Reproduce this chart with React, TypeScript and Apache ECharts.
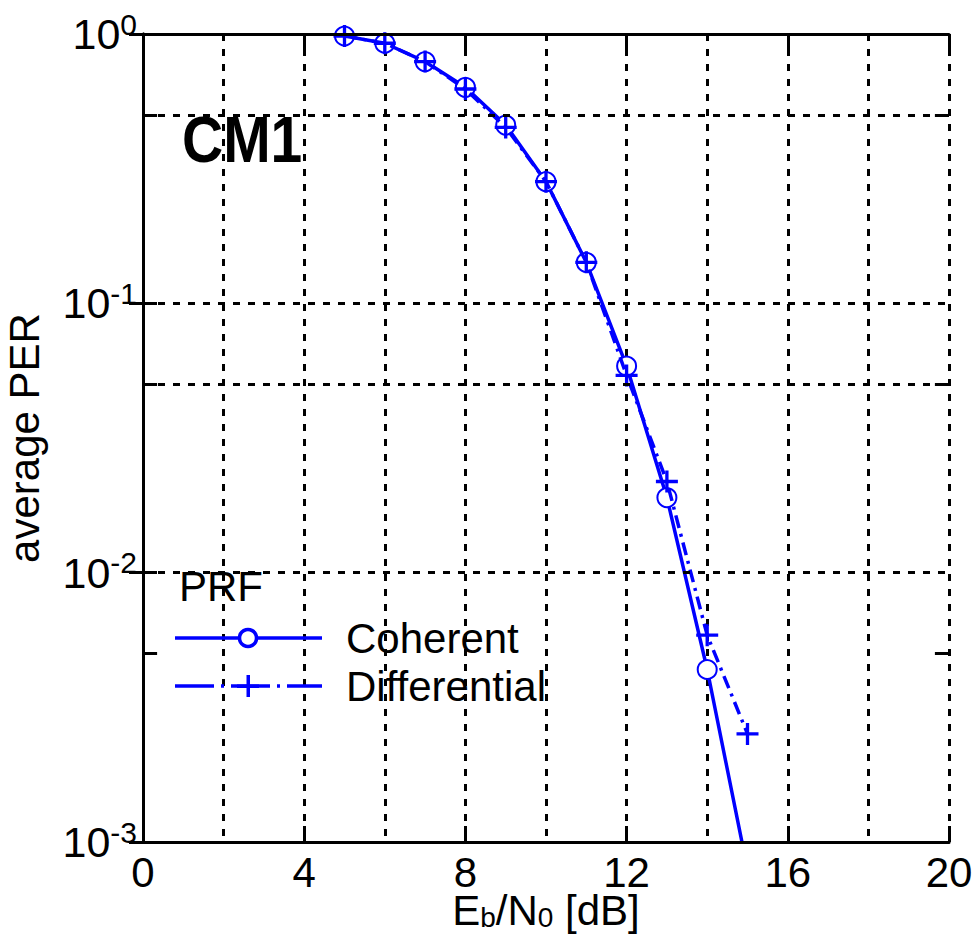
import React, { useEffect, useRef } from "react";
import * as echarts from "echarts";

const ebno = [5, 6, 7, 8, 9, 10, 11, 12, 13, 14, 15];
const coherent = [0.983, 0.924, 0.79, 0.634, 0.459, 0.283, 0.142, 0.0585, 0.019, 0.00437, 0.00079];
const differential = [0.983, 0.924, 0.79, 0.625, 0.45, 0.283, 0.142, 0.054, 0.0218, 0.00586, 0.00252];
const xTicks = [0, 4, 8, 12, 16, 20];
const halfDecades = [0.5, 0.05, 0.005];

const FONT = "'Liberation Sans', Arial, Helvetica, sans-serif";
const BLUE = "#0000ff";
const PLUS = "path://M8.5,0 H11.5 V8.5 H20 V11.5 H11.5 V20 H8.5 V11.5 H0 V8.5 H8.5 Z";

export default function App() {
  const ref = useRef<HTMLDivElement>(null);
  useEffect(() => {
    const chart = echarts.init(ref.current!, null, { renderer: "svg" });
    const gridDash = { color: "#000", type: [7, 8] as any, width: 3 };
    const tickLines: any[] = [];
    halfDecades.forEach((v) => {
      tickLines.push([
        { coord: [0, v], lineStyle: { color: "#000", type: "solid", width: 3 } },
        { coord: [0.35, v] },
      ]);
      tickLines.push([
        { coord: [19.65, v], lineStyle: { color: "#000", type: "solid", width: 3 } },
        { coord: [20, v] },
      ]);
    });
    const option: any = {
      animation: false,
      textStyle: { fontFamily: FONT },
      grid: { left: 143, top: 34, width: 806, height: 808, containLabel: false, outerBoundsMode: "none" },
      xAxis: [
        {
          type: "value",
          position: "bottom",
          min: xTicks[0],
          max: xTicks[xTicks.length - 1],
          interval: 4,
          axisLine: { show: true, lineStyle: { color: "#000", width: 3 } },
          axisTick: { show: true, inside: true, length: 16, lineStyle: { color: "#000", width: 3 } },
          axisLabel: { show: true, color: "#000", fontSize: 42, lineHeight: 34, fontFamily: FONT, margin: 13 },
          splitLine: { show: false },
          name: "E{sub|b}/N{sub|0} [dB]",
          nameLocation: "middle",
          nameGap: 47,
          nameMoveOverlap: false,
          nameTextStyle: {
            color: "#000",
            fontFamily: FONT,
            fontSize: 42,
            verticalAlign: "top",
            rich: {
              sub: { fontSize: 28, lineHeight: 14, verticalAlign: "bottom", fontFamily: FONT, color: "#000" },
            },
            lineHeight: 42,
          },
          z: 5,
        },
        {
          type: "value",
          position: "top",
          min: 0,
          max: 20,
          interval: 4,
          axisLine: { show: true, lineStyle: { color: "#000", width: 3 } },
          axisTick: { show: true, inside: true, length: 16, lineStyle: { color: "#000", width: 3 } },
          axisLabel: { show: false },
          splitLine: { show: false },
          z: 5,
        },
        {
          type: "value",
          position: "bottom",
          min: 0,
          max: 20,
          interval: 2,
          axisLine: { show: false },
          axisTick: { show: false },
          axisLabel: { show: false },
          splitLine: { show: true, lineStyle: gridDash },
        },
      ],
      yAxis: [
        {
          type: "log",
          logBase: 10,
          position: "left",
          min: 0.001,
          max: 1,
          axisLine: { show: true, lineStyle: { color: "#000", width: 3 } },
          axisTick: { show: true, inside: true, length: 14, lineStyle: { color: "#000", width: 3 } },
          axisLabel: {
            show: true,
            margin: 6,
            formatter: (v: number) => `{b|10}{s|${Math.round(Math.log10(v))}}`,
            rich: {
              b: { fontSize: 43, lineHeight: 50, fontFamily: FONT, color: "#000" },
              s: { fontSize: 30, lineHeight: 26, verticalAlign: "top", fontFamily: FONT, color: "#000" },
            },
          },
          splitLine: { show: true, lineStyle: gridDash },
          name: "average PER",
          nameLocation: "middle",
          nameRotate: 90,
          nameGap: 98,
          nameMoveOverlap: false,
          nameTextStyle: { color: "#000", fontSize: 42, fontFamily: FONT },
          z: 5,
        },
        {
          type: "log",
          logBase: 10,
          position: "right",
          min: 0.001,
          max: 1,
          axisLine: { show: true, lineStyle: { color: "#000", width: 3 } },
          axisTick: { show: true, inside: true, length: 14, lineStyle: { color: "#000", width: 3 } },
          axisLabel: { show: false },
          splitLine: { show: false },
          z: 5,
        },
      ],
      series: [
        {
          name: "Coherent",
          type: "line",
          xAxisIndex: 0,
          yAxisIndex: 0,
          data: ebno.map((x, i) => [x, coherent[i]]),
          symbol: "emptyCircle",
          symbolSize: 19,
          showAllSymbol: true,
          clip: true,
          lineStyle: { color: BLUE, width: 3.5 },
          itemStyle: { color: BLUE, borderColor: BLUE, borderWidth: 3.5 },
          markLine: {
            silent: true,
            symbol: ["none", "none"],
            label: { show: false },
            lineStyle: gridDash,
            data: [
              ...halfDecades.map((v) => ({ yAxis: v })),
              ...tickLines,
            ],
          },
          z: 3,
        },
        {
          name: "Differential",
          type: "line",
          xAxisIndex: 0,
          yAxisIndex: 0,
          data: ebno.map((x, i) => [x, differential[i]]),
          symbol: PLUS,
          symbolSize: 22,
          showAllSymbol: true,
          clip: true,
          lineStyle: { color: BLUE, width: 3.5, type: [13, 6, 3, 6] },
          itemStyle: { color: BLUE, borderWidth: 0 },
          z: 4,
        },
      ],
      graphic: [
        {
          type: "text",
          x: 182,
          y: 139,
          scaleY: 1.15,
          style: { text: "CM1", x: 0, y: 0, fontSize: 57, fontWeight: "bold", fontFamily: FONT, fill: "#000", verticalAlign: "middle", align: "left" },
          z: 10,
        },
        {
          type: "text",
          x: 179,
          y: 586,
          style: { text: "PRF", fontSize: 42, fontFamily: FONT, fill: "#000", verticalAlign: "middle", align: "left" },
          z: 10,
        },
        {
          type: "line",
          shape: { x1: 175, y1: 638, x2: 322, y2: 638 },
          style: { stroke: BLUE, lineWidth: 3.5 },
          z: 10,
        },
        {
          type: "circle",
          shape: { cx: 248, cy: 638, r: 8.5 },
          style: { fill: "#fff", stroke: BLUE, lineWidth: 3.5 },
          z: 11,
        },
        {
          type: "text",
          x: 346,
          y: 638,
          style: { text: "Coherent", fontSize: 42, fontFamily: FONT, fill: "#000", verticalAlign: "middle", align: "left" },
          z: 10,
        },
        {
          type: "line",
          shape: { x1: 175, y1: 686, x2: 322, y2: 686 },
          style: { stroke: BLUE, lineWidth: 3.5, lineDash: [39, 7, 3, 7] },
          z: 10,
        },
        {
          type: "rect",
          shape: { x: 237, y: 684.5, width: 22, height: 3.5 },
          style: { fill: BLUE },
          z: 11,
        },
        {
          type: "rect",
          shape: { x: 246.5, y: 675, width: 3.5, height: 22 },
          style: { fill: BLUE },
          z: 11,
        },
        {
          type: "text",
          x: 346,
          y: 686,
          style: { text: "Differential", fontSize: 42, fontFamily: FONT, fill: "#000", verticalAlign: "middle", align: "left" },
          z: 10,
        },
      ],
    };
    chart.setOption(option);
    return () => chart.dispose();
  }, []);
  return (
    <div
      ref={ref}
      style={{ position: "absolute", left: 0, top: 0, width: 979, height: 938, background: "#fff" }}
    />
  );
}
